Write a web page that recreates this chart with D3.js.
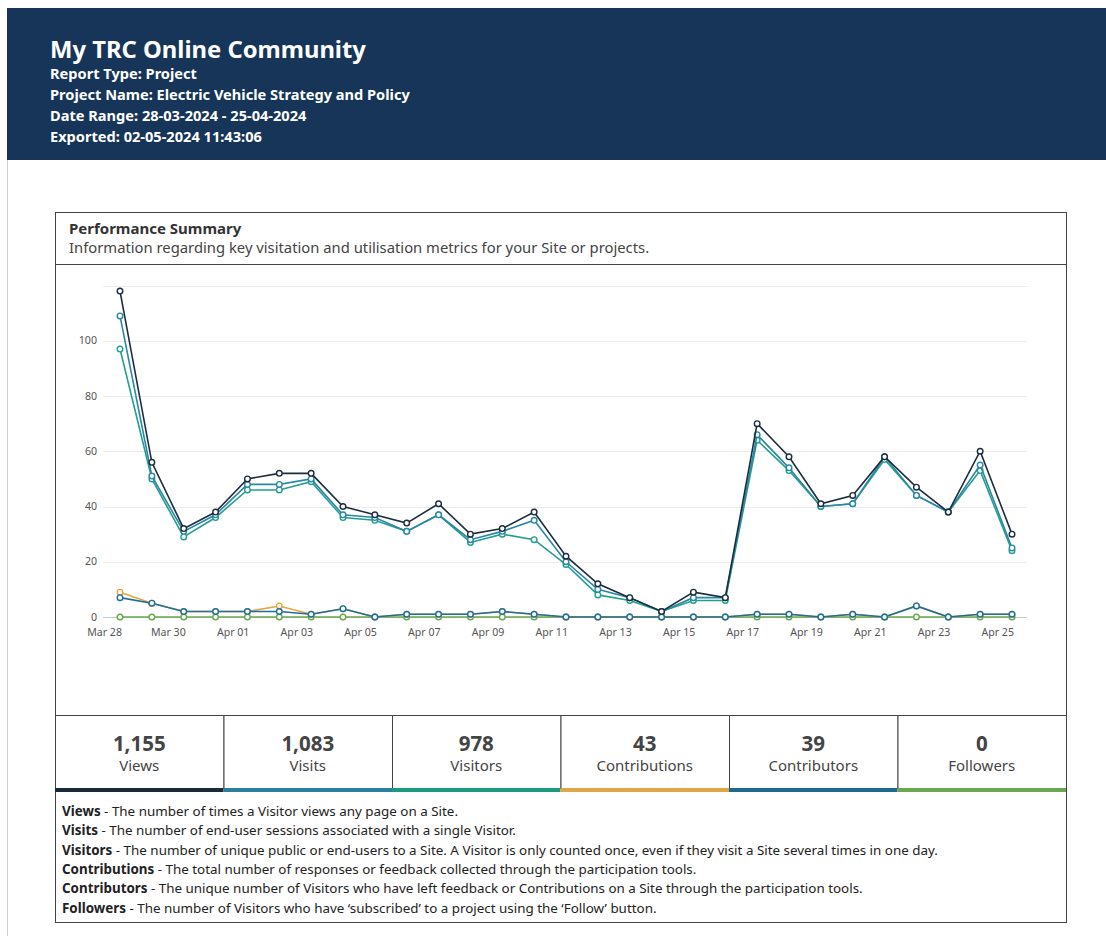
<!DOCTYPE html>
<html>
<head>
<meta charset="utf-8">
<script src="https://cdn.jsdelivr.net/npm/d3@7"></script>
<style>
  body { margin: 0; background: #fff; font-family: "Noto Sans", "Open Sans", sans-serif; }
  svg text { font-family: "Noto Sans", "Open Sans", sans-serif; }
</style>
</head>
<body>
<svg id="page" width="1106" height="936"></svg>
<script>
// report header
var headerLines = ["Report Type: Project", "Project Name: Electric Vehicle Strategy and Policy",
  "Date Range: 28-03-2024 - 25-04-2024", "Exported: 02-05-2024 11:43:06"];

// days on the x axis
var dates = ["2024-03-28","2024-03-29","2024-03-30","2024-03-31","2024-04-01","2024-04-02","2024-04-03",
  "2024-04-04","2024-04-05","2024-04-06","2024-04-07","2024-04-08","2024-04-09","2024-04-10",
  "2024-04-11","2024-04-12","2024-04-13","2024-04-14","2024-04-15","2024-04-16","2024-04-17",
  "2024-04-18","2024-04-19","2024-04-20","2024-04-21","2024-04-22","2024-04-23","2024-04-24","2024-04-25"];

var views = [118,56,32,38,50,52,52,40,37,34,41,30,32,38,22,12,7,2,9,7,70,58,41,44,58,47,38,60,30];
var visits = [109,51,31,37,48,48,50,37,36,31,37,28,31,35,20,10,7,2,7,7,66,54,40,41,58,44,38,55,25];
var visitors = [97,50,29,36,46,46,49,36,35,31,37,27,30,28,19,8,6,2,6,6,64,53,40,41,57,44,38,53,24];
var contributions = [9,5,2,2,2,4,1,3,0,1,1,1,2,1,0,0,0,0,0,0,1,1,0,1,0,4,0,1,1];
var contributors = [7,5,2,2,2,2,1,3,0,1,1,1,2,1,0,0,0,0,0,0,1,1,0,1,0,4,0,1,1];
var followers = [0,0,0,0,0,0,0,0,0,0,0,0,0,0,0,0,0,0,0,0,0,0,0,0,0,0,0,0,0];

var yTicks = [0,20,40,60,80,100,120];

// summary boxes
var statLabels = ["Views","Visits","Visitors","Contributions","Contributors","Followers"];
var statValues = [1155,1083,978,43,39,0];
var statColors = ["#1a2a3a","#2a80a0","#1b9a80","#e0a646","#1c6890","#6aa84f"];

var definitions = [
  ["Views", " - The number of times a Visitor views any page on a Site."],
  ["Visits", " - The number of end-user sessions associated with a single Visitor."],
  ["Visitors", " - The number of unique public or end-users to a Site. A Visitor is only counted once, even if they visit a Site several times in one day."],
  ["Contributions", " - The total number of responses or feedback collected through the participation tools."],
  ["Contributors", " - The unique number of Visitors who have left feedback or Contributions on a Site through the participation tools."],
  ["Followers", " - The number of Visitors who have \u2018subscribed\u2019 to a project using the \u2018Follow\u2019 button."]
];

var svg = d3.select("#page");

// page edge + header band
svg.append("line").attr("x1", 7.5).attr("x2", 7.5).attr("y1", 160).attr("y2", 936)
  .attr("stroke", "#d0d0d0");
svg.append("rect").attr("x", 7).attr("y", 8).attr("width", 1099).attr("height", 152).attr("fill", "#163559");
svg.append("text").attr("x", 50).attr("y", 58).attr("fill", "#fff")
  .style("font-size", "23.8px").style("font-weight", "bold").text("My TRC Online Community");
headerLines.forEach(function(t, i) {
  svg.append("text").attr("x", 50).attr("y", 79 + i * 21).attr("fill", "#fff")
    .style("font-size", "14.6px").style("font-weight", "bold").text(t);
});

// card
var cardL = 55, cardR = 1066;
svg.append("rect").attr("x", cardL + 0.5).attr("y", 212.5).attr("width", cardR - cardL).attr("height", 710)
  .attr("fill", "none").attr("stroke", "#444");
svg.append("line").attr("x1", cardL).attr("x2", cardR).attr("y1", 264.5).attr("y2", 264.5).attr("stroke", "#444");
svg.append("text").attr("x", 69).attr("y", 234).attr("fill", "#333")
  .style("font-size", "15px").style("font-weight", "bold").text("Performance Summary");
svg.append("text").attr("x", 69).attr("y", 253).attr("fill", "#444")
  .style("font-size", "14.8px").text("Information regarding key visitation and utilisation metrics for your Site or projects.");

// chart
var parse = d3.timeParse("%Y-%m-%d");
var days = dates.map(parse);
var x = d3.scaleTime().domain(d3.extent(days)).range([120, 1012]);
var y = d3.scaleLinear().domain([0, 120]).range([617, 285.5]);

var chart = svg.append("g");
chart.selectAll(".grid").data(yTicks).enter().append("line")
  .attr("x1", 103).attr("x2", 1027)
  .attr("y1", function(d) { return Math.round(y(d)) + 0.5; })
  .attr("y2", function(d) { return Math.round(y(d)) + 0.5; })
  .attr("stroke", function(d) { return d === 0 ? "#c8c8c8" : "#ececec"; });

chart.selectAll(".ylab").data(yTicks.filter(function(d) { return d <= 100; })).enter().append("text")
  .attr("x", 97).attr("y", function(d) { return y(d) + 3.5; })
  .attr("text-anchor", "end").attr("fill", "#555").style("font-size", "10.6px")
  .text(function(d) { return d; });

var xTickDays = days.filter(function(d, i) { return i % 2 === 0; });
chart.selectAll(".xlab").data(xTickDays).enter().append("text")
  .attr("x", function(d) { return x(d) + 2; }).attr("y", 636)
  .attr("text-anchor", "end").attr("fill", "#555").style("font-size", "10.6px")
  .text(d3.timeFormat("%b %d"));

var seriesList = [
  {values: followers, color: "#6aa84f"},
  {values: contributions, color: "#e5a53f"},
  {values: contributors, color: "#1f6f9a"},
  {values: visitors, color: "#23a08c"},
  {values: visits, color: "#2a87a8"},
  {values: views, color: "#1d2d3e"}
];

var line = d3.line()
  .x(function(d, i) { return x(days[i]); })
  .y(function(d) { return y(d); });

seriesList.forEach(function(s) {
  chart.append("path").datum(s.values)
    .attr("fill", "none").attr("stroke", s.color).attr("stroke-width", 1.6)
    .attr("d", line);
  chart.selectAll(null).data(s.values).enter().append("circle")
    .attr("cx", function(d, i) { return x(days[i]); })
    .attr("cy", function(d) { return y(d); })
    .attr("r", 2.8).attr("fill", "#fff").attr("stroke", s.color).attr("stroke-width", 1.4);
});

// stat boxes
var boxTop = 715, boxBottom = 792;
var bx = d3.scaleBand().domain(statLabels).range([cardL, cardR]);
var fmt = d3.format(",");
var boxes = svg.selectAll(".stat").data(statLabels).enter().append("g");
boxes.append("rect")
  .attr("x", function(d) { return bx(d) + 0.5; }).attr("y", boxTop + 0.5)
  .attr("width", bx.bandwidth()).attr("height", boxBottom - boxTop - 4)
  .attr("fill", "#fff").attr("stroke", "#444");
boxes.append("rect")
  .attr("x", function(d) { return bx(d); }).attr("y", boxBottom - 4)
  .attr("width", bx.bandwidth()).attr("height", 4)
  .attr("fill", function(d, i) { return statColors[i]; });
boxes.append("text")
  .attr("x", function(d) { return bx(d) + bx.bandwidth() / 2; }).attr("y", 751)
  .attr("text-anchor", "middle").attr("fill", "#444")
  .style("font-size", "20.5px").style("font-weight", "bold")
  .text(function(d, i) { return fmt(statValues[i]); });
boxes.append("text")
  .attr("x", function(d) { return bx(d) + bx.bandwidth() / 2; }).attr("y", 771)
  .attr("text-anchor", "middle").attr("fill", "#444").style("font-size", "15px")
  .text(function(d) { return d; });

// definitions
definitions.forEach(function(def, i) {
  var t = svg.append("text").attr("x", 62).attr("y", 816 + i * 19.3)
    .attr("fill", "#222").style("font-size", "13.4px");
  t.append("tspan").style("font-weight", "bold").text(def[0]);
  t.append("tspan").text(def[1]);
});
</script>
</body>
</html>
